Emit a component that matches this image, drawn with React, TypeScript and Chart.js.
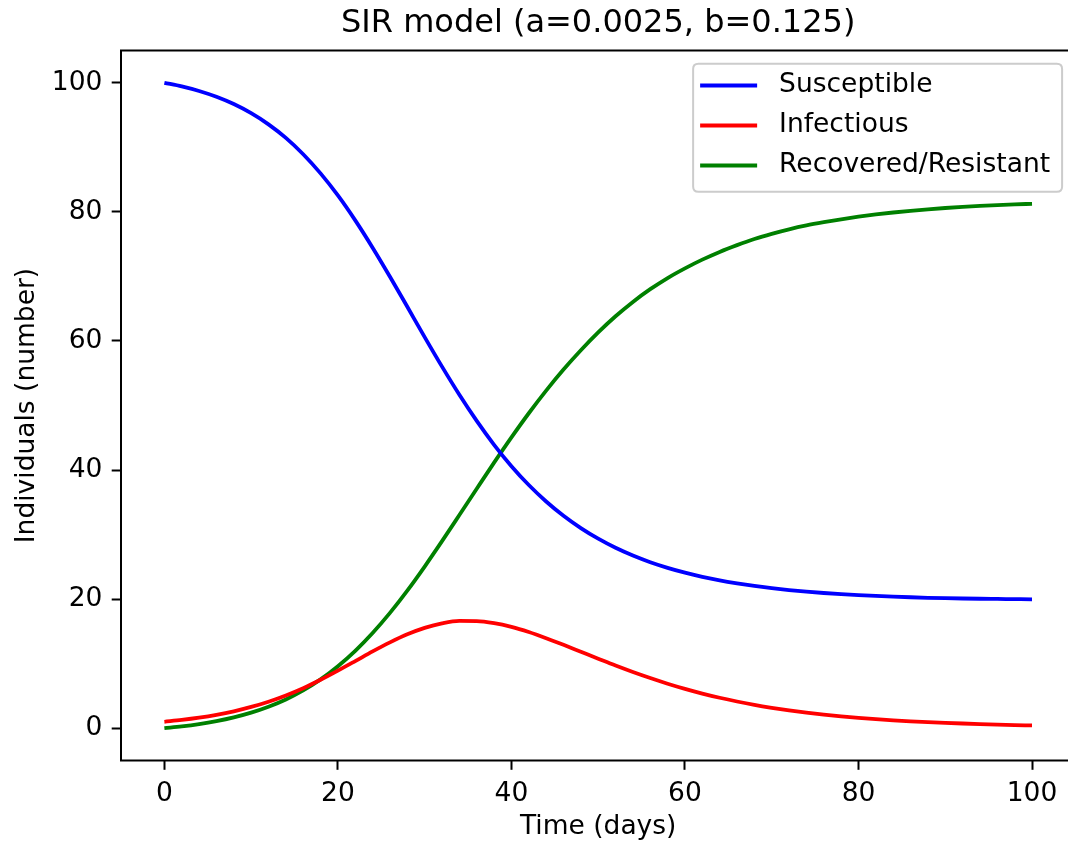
import React, { useEffect, useRef } from "react";
import { Chart, registerables } from "chart.js";

Chart.register(...registerables);

// ---- data ----
const days = [
  0, 2, 4, 6, 8, 10, 12, 14, 16, 18, 20, 22, 24, 26, 28, 30, 32, 34, 36, 38, 40,
  42, 44, 46, 48, 50, 52, 54, 56, 58, 60, 62, 64, 66, 68, 70, 72, 74, 76, 78, 80,
  82, 84, 86, 88, 90, 92, 94, 96, 98, 100,
];
const susceptible = [
  100, 99.44, 98.73, 97.83, 96.7, 95.29, 93.56, 91.46, 88.93, 85.96, 82.54,
  78.68, 74.45, 69.95, 65.29, 60.6, 56.02, 51.66, 47.61, 43.91, 40.6,
  37.68, 35.13, 32.91, 31.0, 29.36, 27.95, 26.75, 25.72, 24.85, 24.1,
  23.46, 22.91, 22.45, 22.05, 21.71, 21.41, 21.16, 20.95, 20.77, 20.62,
  20.49, 20.38, 20.29, 20.21, 20.15, 20.1, 20.06, 20.03, 20.0, 19.97,
];
const infectious = [
  1.0, 1.28, 1.63, 2.07, 2.62, 3.3, 4.11, 5.08, 6.2, 7.5, 8.92,
  10.4, 11.9, 13.3, 14.55, 15.55, 16.25, 16.62, 16.6, 16.28, 15.7,
  14.9, 13.95, 12.92, 11.85, 10.78, 9.72, 8.72, 7.78, 6.9, 6.1,
  5.37, 4.72, 4.14, 3.62, 3.17, 2.77, 2.42, 2.11, 1.84, 1.6,
  1.4, 1.22, 1.07, 0.94, 0.83, 0.73, 0.64, 0.56, 0.49, 0.43,
];
const recovered = [
  0, 0.28, 0.64, 1.1, 1.68, 2.41, 3.33, 4.46, 5.86, 7.56, 9.6,
  11.99, 14.75, 17.87, 21.32, 25.05, 28.98, 33.03, 37.11, 41.15, 45.06,
  48.8, 52.31, 55.57, 58.56, 61.32, 63.82, 66.05, 68.02, 69.75, 71.25,
  72.6, 73.8, 74.85, 75.8, 76.6, 77.3, 77.9, 78.4, 78.85, 79.25,
  79.6, 79.9, 80.17, 80.4, 80.6, 80.77, 80.92, 81.05, 81.16, 81.25,
];
const seriesLabels = ["Susceptible", "Infectious", "Recovered/Resistant"];
const xTicks = [0, 20, 40, 60, 80, 100];
const yTicks = [0, 20, 40, 60, 80, 100];
const titleText = "SIR model (a=0.0025, b=0.125)";
const xTitleText = "Time (days)";
const yTitleText = "Individuals (number)";

// ---- styling ----
const FONT = "'DejaVu Sans', 'Liberation Sans', sans-serif";
const FS = 26.5;
const CANVAS_W = 1090;
const CANVAS_H = 846;
const LINE_W = 3.8;

const framePlugin = {
  id: "mplFrame",
  afterDatasetsDraw(chart: any) {
    const { ctx, chartArea } = chart;
    ctx.save();
    ctx.strokeStyle = "#000";
    ctx.lineWidth = 2;
    ctx.strokeRect(
      chartArea.left,
      chartArea.top,
      chartArea.right - chartArea.left,
      chartArea.bottom - chartArea.top
    );
    ctx.restore();
  },
};

const legendPlugin = {
  id: "mplLegend",
  afterDraw(chart: any) {
    const { ctx, chartArea } = chart;
    const ds = chart.data.datasets;
    ctx.save();
    ctx.font = `${FS}px ${FONT}`;
    let maxW = 0;
    ds.forEach((d: any) => {
      maxW = Math.max(maxW, ctx.measureText(d.label).width);
    });
    const handleStart = 7;
    const handleEnd = 64;
    const textStart = 86;
    const rightPad = 12;
    const rowPitch = 40;
    const w = textStart + maxW + rightPad;
    const h = 128;
    const right = chartArea.right - 13.3;
    const top = chartArea.top + 13.3;
    const left = right - w;
    const r = 5.3;
    ctx.beginPath();
    ctx.moveTo(left + r, top);
    ctx.lineTo(right - r, top);
    ctx.quadraticCurveTo(right, top, right, top + r);
    ctx.lineTo(right, top + h - r);
    ctx.quadraticCurveTo(right, top + h, right - r, top + h);
    ctx.lineTo(left + r, top + h);
    ctx.quadraticCurveTo(left, top + h, left, top + h - r);
    ctx.lineTo(left, top + r);
    ctx.quadraticCurveTo(left, top, left + r, top);
    ctx.closePath();
    ctx.fillStyle = "rgba(255,255,255,0.8)";
    ctx.fill();
    ctx.strokeStyle = "#cccccc";
    ctx.lineWidth = 2;
    ctx.stroke();
    ds.forEach((d: any, i: number) => {
      const cy = top + 21.7 + i * rowPitch;
      ctx.beginPath();
      ctx.strokeStyle = d.borderColor;
      ctx.lineWidth = d.borderWidth;
      ctx.lineCap = "butt";
      ctx.moveTo(left + handleStart, cy);
      ctx.lineTo(left + handleEnd, cy);
      ctx.stroke();
      ctx.fillStyle = "#000";
      ctx.textAlign = "left";
      ctx.textBaseline = "middle";
      ctx.fillText(d.label, left + textStart, cy);
    });
    ctx.restore();
  },
};

export default function App() {
  const ref = useRef<HTMLCanvasElement | null>(null);

  useEffect(() => {
    if (!ref.current) return;
    const font = { family: FONT, size: FS, weight: "normal" as const };
    const mk = (vals: number[]) => days.map((d, i) => ({ x: d, y: vals[i] }));
    const colors = ["#0000ff", "#ff0000", "#008000"];
    const series = [susceptible, infectious, recovered];
    const chart = new Chart(ref.current, {
      type: "line",
      data: {
        datasets: series.map((vals, i) => ({
          label: seriesLabels[i],
          data: mk(vals),
          borderColor: colors[i],
          backgroundColor: colors[i],
          borderWidth: LINE_W,
          pointRadius: 0,
          fill: false,
          cubicInterpolationMode: "monotone" as const,
        })),
      },
      options: {
        responsive: false,
        animation: false,
        events: [],
        layout: { padding: { left: 0, right: CANVAS_W - 1075.4, top: 0, bottom: 0 } },
        plugins: {
          legend: { display: false },
          tooltip: { enabled: false },
          title: {
            display: true,
            text: titleText,
            fullSize: false,
            color: "#000",
            font: { family: FONT, size: 32, weight: "normal" },
            padding: { top: 4, bottom: 8.1 },
          },
        },
        scales: {
          x: {
            type: "linear",
            min: -5,
            max: 105,
            afterBuildTicks: (s: any) => {
              s.ticks = xTicks.map((v) => ({ value: v }));
            },
            afterFit: (s: any) => {
              s.height = 85.5;
            },
            grid: {
              display: true,
              drawOnChartArea: false,
              drawTicks: true,
              tickLength: 9.3,
              tickWidth: 2,
              tickColor: "#000",
            },
            border: { display: false },
            ticks: { color: "#000", font, padding: 8, maxRotation: 0 },
            title: {
              display: true,
              text: xTitleText,
              color: "#000",
              font,
              padding: { top: 4, bottom: 3 },
            },
          },
          y: {
            type: "linear",
            min: -5,
            max: 105,
            afterBuildTicks: (s: any) => {
              s.ticks = yTicks.map((v) => ({ value: v }));
            },
            afterFit: (s: any) => {
              s.width = 121;
            },
            grid: {
              display: true,
              drawOnChartArea: false,
              drawTicks: true,
              tickLength: 9.3,
              tickWidth: 2,
              tickColor: "#000",
            },
            border: { display: false },
            ticks: { color: "#000", font, padding: 9.3 },
            title: {
              display: true,
              text: yTitleText,
              color: "#000",
              font,
              padding: { top: 11, bottom: 4 },
            },
          },
        },
      },
      plugins: [framePlugin, legendPlugin],
    });
    return () => chart.destroy();
  }, []);

  return (
    <div
      style={{
        position: "absolute",
        left: 0,
        top: 0,
        width: 1068,
        height: 846,
        overflow: "hidden",
        background: "#fff",
      }}
    >
      <canvas
        ref={ref}
        width={CANVAS_W}
        height={CANVAS_H}
        style={{ display: "block", width: CANVAS_W, height: CANVAS_H }}
      />
    </div>
  );
}
